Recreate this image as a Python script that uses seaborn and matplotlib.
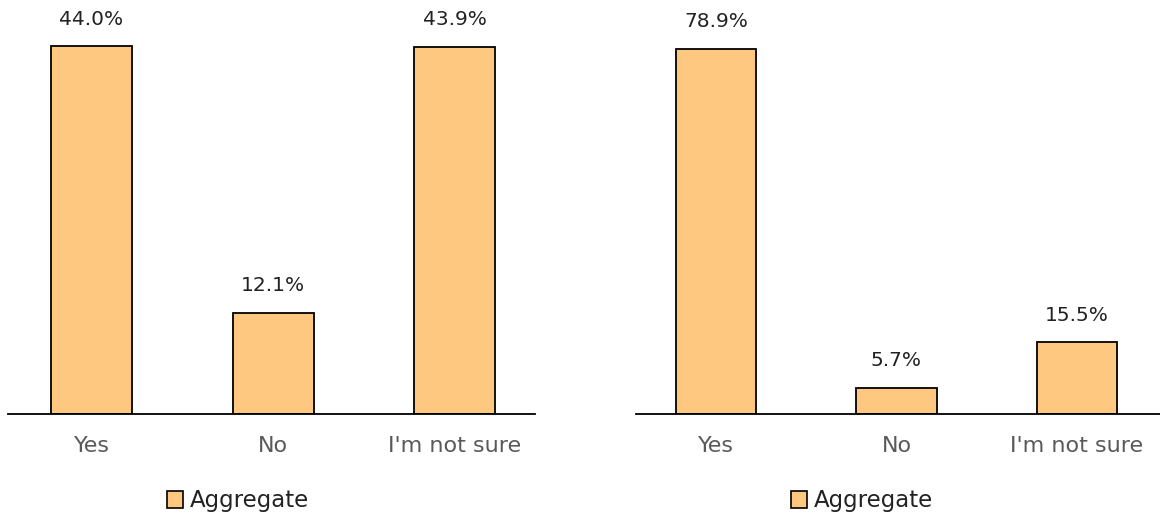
import matplotlib
matplotlib.use("Agg")
import matplotlib.pyplot as plt
import seaborn as sns
from matplotlib.patches import Patch

categories = ["Yes", "No", "I'm not sure"]
left_values = [44.0, 12.1, 43.9]
right_values = [78.9, 5.7, 15.5]
series_name = "Aggregate"

sns.set_theme(style="white")
plt.rcParams['font.family'] = ['DejaVu Sans']

BAR = "#FFC880"
fig = plt.figure(figsize=(11.6, 5.17), dpi=100)
ax1 = fig.add_axes([8/1160, 103/517, 527/1160, 414/517])
ax2 = fig.add_axes([636/1160, 103/517, 524/1160, 414/517])

for ax, vals, xl, yl in [(ax1, left_values, (-0.46, 2.443), 49.5),
                         (ax2, right_values, (-0.443, 2.46), 89.4)]:
    sns.barplot(x=categories, y=vals, ax=ax, color=BAR, edgecolor="black",
                linewidth=1.3, width=0.446, saturation=1)
    ax.set_xlim(*xl)
    ax.set_ylim(0, yl)
    for s in ["top", "left", "right"]:
        ax.spines[s].set_visible(False)
    ax.spines["bottom"].set_color("black")
    ax.spines["bottom"].set_linewidth(1.3)
    ax.set_yticks([])
    ax.tick_params(axis="x", length=0, pad=15.5, labelsize=16, labelcolor="#595959")
    for i, v in enumerate(vals):
        ax.annotate(f"{v:.1f}%", (i, v), xytext=(0, 12.5), textcoords="offset points",
                    ha="center", va="bottom", fontsize=14.5, color="#222222")
    ax.patch.set_alpha(0)

for cx in [238/1160, 862/1160]:
    fig.legend(handles=[Patch(facecolor=BAR, edgecolor="black", linewidth=1.2, label=series_name)],
               loc="center", bbox_to_anchor=(cx, 1 - 501/517), frameon=False,
               fontsize=16.5, handlelength=0.7, handleheight=0.7, handletextpad=0.3,
               labelcolor="#222222")

fig.savefig("out.png", dpi=100)
